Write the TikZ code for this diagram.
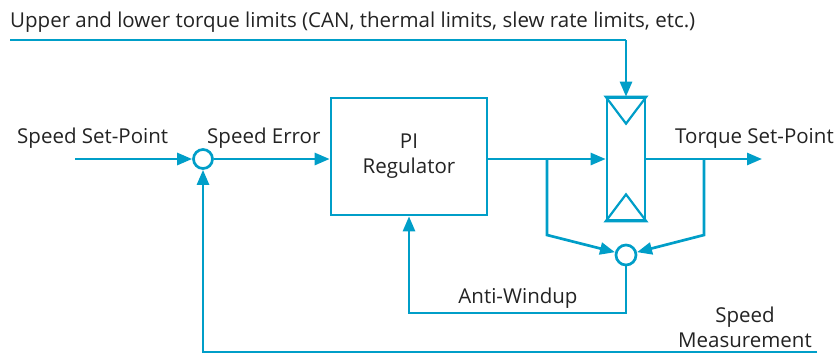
\documentclass[tikz,border=0pt]{standalone}
\usepackage{fontspec}
\setmainfont{Open Sans}
\definecolor{ctrlblue}{RGB}{0,158,200}
\definecolor{textgray}{RGB}{35,35,35}
\usetikzlibrary{arrows.meta, positioning, calc}

\begin{document}
\begin{tikzpicture}[x=1pt, y=-1pt,
        every node/.style={font=\fontsize{20.5}{25}\selectfont, text=textgray},
        blk/.style={draw=ctrlblue, line width=2.7pt, inner sep=0pt},
        junc/.style={circle, draw=ctrlblue, line width=2.7pt, minimum size=19pt, inner sep=0pt},
        lbl/.style={inner sep=0pt, anchor=base west},
        wire/.style={ctrlblue, line width=2.7pt},
        arr/.style={wire, -{Triangle[length=15pt, width=12pt]}}
      ]
        \useasboundingbox (0,0) rectangle (837,354);
        % blocks
        \node[junc] (sum) at (203,159) {};
        \node[blk, minimum width=156pt, minimum height=117pt, align=center]
          (pi) at (409,156.5) {PI\\Regulator};
        \node[blk, minimum width=38pt, minimum height=122pt] (lim) at (626,159) {};
        \node[junc, minimum size=20pt] (aw) at (626,255) {};
        \draw[ctrlblue, line width=2.2pt, line join=miter]
          (lim.north west) -- (lim.north east) -- ($(lim.north)+(0,27)$) -- cycle
          (lim.south west) -- (lim.south east) -- ($(lim.south)+(0,-27)$) -- cycle;
        % helper points
        \coordinate (in) at (75,159);
        \coordinate (out) at (762,159);
        \coordinate (lim top) at (10,40);
        \coordinate (meas) at (817,352);
        \coordinate (tapl) at (547,159);
        \coordinate (tapr) at (704,159);
        \coordinate (awlow) at (626,313);
        % labels
        \node[lbl] (lim txt) at (10,27) {Upper and lower torque limits (CAN, thermal limits, slew rate limits, etc.)};
        \node[lbl] (sp txt) at (17,143) {Speed Set-Point};
        \node[lbl] (err txt) at (207,143) {Speed Error};
        \node[lbl] (tq txt) at (675,143) {Torque Set-Point};
        \node[inner sep=0pt, anchor=base] (aw txt) at (518,303) {Anti-Windup};
        \node[inner sep=0pt, align=center, anchor=south] (meas txt) at (745,348)
          {Speed\\Measurement};
        % connectors
        \draw[arr] (in) -- (sum);
        \draw[arr] (sum) -- (sum -| pi.west);
        \draw[arr] (sum -| pi.east) -- (lim);
        \draw[arr] (lim) -- (out);
        \draw[wire] (lim top) -- (lim top -| lim.north);
        \draw[arr] (lim top -| lim.north) -- (lim);
        \draw[arr] (tapl) -- ++(0,76) -- (aw);
        \draw[arr] (tapr) -- ++(0,76) -- (aw);
        \draw[arr] (aw) -- (awlow) -| (pi);
        \draw[arr] (meas) -| (sum);
      \end{tikzpicture}
\end{document}
